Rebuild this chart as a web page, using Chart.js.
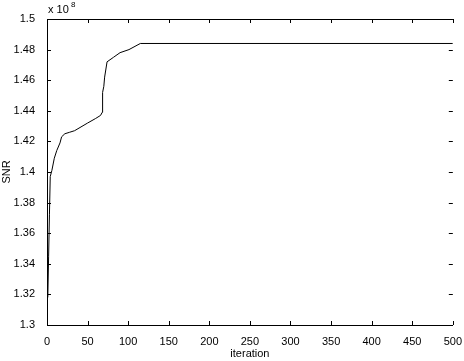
<!DOCTYPE html>
<html>
<head>
<meta charset="utf-8">
<script src="https://cdn.jsdelivr.net/npm/chart.js@4"></script>
<style>
  html, body { margin: 0; padding: 0; background: #fff; }
  #wrap { width: 464px; height: 361px; }
</style>
</head>
<body>
<div id="wrap"><canvas id="myChart" width="464" height="361"></canvas></div>
<script>
// iteration number and SNR (in units of 1e8)
const iterations = [1, 2, 3, 4, 6, 9, 12, 16, 18, 22, 28, 34, 50, 60, 66, 68, 68.5, 70, 71, 74, 82, 90, 101, 115, 500];
const snr = [1.318, 1.345, 1.372, 1.397, 1.401, 1.409, 1.414, 1.419, 1.423, 1.425, 1.426, 1.427, 1.432, 1.435, 1.437, 1.439, 1.452, 1.456, 1.462, 1.472, 1.475, 1.478, 1.480, 1.484, 1.484];
const xTicks = [0, 50, 100, 150, 200, 250, 300, 350, 400, 450, 500];
const yTicks = [1.3, 1.32, 1.34, 1.36, 1.38, 1.4, 1.42, 1.44, 1.46, 1.48, 1.5];

const points = iterations.map(function (x, i) { return { x: x, y: snr[i] }; });

const fontFam = '"Liberation Sans", Arial, Helvetica, sans-serif';

// matlab style box: inward ticks, top line, exponent label
const boxPlugin = {
  id: 'box',
  afterDraw: function (chart) {
    const ctx = chart.ctx;
    const a = chart.chartArea;
    const xs = chart.scales.x;
    const ys = chart.scales.y;
    ctx.save();
    ctx.strokeStyle = '#000';
    ctx.lineWidth = 1;
    ctx.beginPath();
    ctx.moveTo(a.left, a.top + 0.5);
    ctx.lineTo(a.right, a.top + 0.5);
    xTicks.forEach(function (t) {
      const px = Math.round(xs.getPixelForValue(t)) + 0.5;
      ctx.moveTo(px, a.bottom);
      ctx.lineTo(px, a.bottom - 4);
      ctx.moveTo(px, a.top);
      ctx.lineTo(px, a.top + 4);
    });
    yTicks.forEach(function (t) {
      const py = Math.round(ys.getPixelForValue(t)) + 0.5;
      ctx.moveTo(a.left, py);
      ctx.lineTo(a.left + 4, py);
      ctx.moveTo(a.right, py);
      ctx.lineTo(a.right - 4, py);
    });
    ctx.stroke();
    ctx.fillStyle = '#000';
    ctx.font = '11px ' + fontFam;
    ctx.textBaseline = 'alphabetic';
    ctx.fillText('x 10', a.left + 1, 13);
    ctx.font = '8px ' + fontFam;
    ctx.fillText('8', a.left + 24, 7);
    ctx.restore();
  }
};

const data = {
  datasets: [{
    label: 'SNR',
    data: points,
    borderColor: '#000',
    backgroundColor: '#000',
    borderWidth: 1,
    pointRadius: 0,
    tension: 0,
  }]
};

const config = {
  type: 'line',
  data: data,
  options: {
    responsive: false,
    animation: false,
    layout: { padding: { left: 0, right: 9, top: 19, bottom: 0 } },
    plugins: { legend: { display: false }, tooltip: { enabled: false } },
    scales: {
      x: {
        type: 'linear',
        min: 0,
        max: 500,
        grid: { display: false },
        border: { display: true, color: '#000', width: 1 },
        ticks: { stepSize: 50, color: '#000', padding: 2, maxRotation: 0, font: { family: fontFam, size: 11 } },
        title: { display: true, text: 'iteration', color: '#000', padding: { top: 0, bottom: 0 }, font: { family: fontFam, size: 11 } },
        afterFit: function (s) { s.height = 36; }
      },
      y: {
        min: 1.3,
        max: 1.5,
        grid: { display: false },
        border: { display: true, color: '#000', width: 1 },
        ticks: {
          stepSize: 0.02,
          color: '#000',
          padding: 4,
          font: { family: fontFam, size: 11 },
          callback: function (v) { return String(Number(v.toFixed(2))); }
        },
        title: { display: true, text: 'SNR', color: '#000', padding: { top: 0, bottom: 2 }, font: { family: fontFam, size: 11 } },
        afterFit: function (s) { s.width = 47; }
      }
    }
  },
  plugins: [boxPlugin]
};

const myChart = new Chart(document.getElementById('myChart'), config);
</script>
</body>
</html>
